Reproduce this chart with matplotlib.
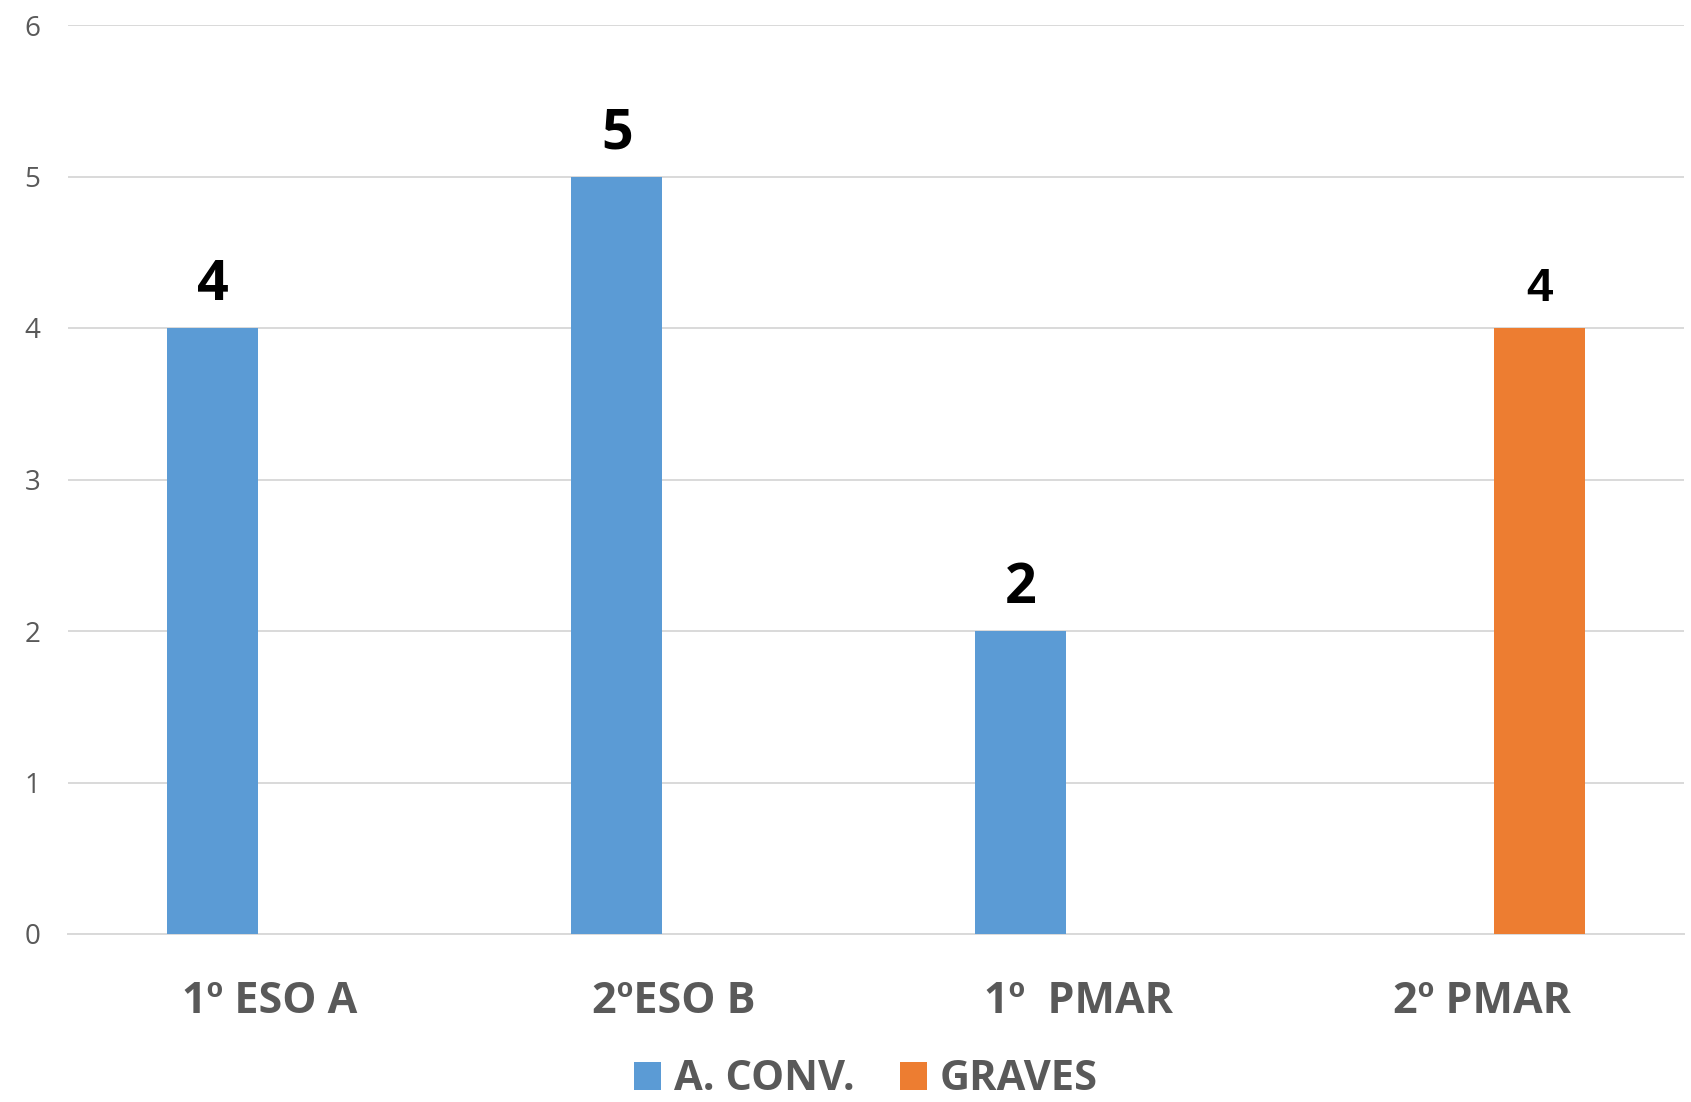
import matplotlib
matplotlib.use("Agg")
import matplotlib.pyplot as plt
import numpy as np

categories = ["1º ESO A", "2ºESO B", "1º  PMAR", "2º PMAR"]
a_conv = [4, 5, 2, 0]
graves = [0, 0, 0, 4]
series_names = ["A. CONV.", "GRAVES"]
yticks = [0, 1, 2, 3, 4, 5, 6]

BLUE = "#5B9BD5"
ORANGE = "#ED7D31"
GRAY = "#595959"
GRID = "#D9D9D9"

fig = plt.figure(figsize=(16.91, 11.02), dpi=100)
ax = fig.add_axes([68/1691, 1-934/1102, (1684-68)/1691, (934-25)/1102])

x = np.arange(len(categories))
w = 0.225
off = 0.142
b1 = ax.bar(x - off, a_conv, w, color=BLUE, label=series_names[0], zorder=3)
b2 = ax.bar(x + off, graves, w, color=ORANGE, label=series_names[1], zorder=3)

for rect, v in zip(b1, a_conv):
    if v:
        ax.annotate(str(v), (rect.get_x() + rect.get_width()/2, v), xytext=(0, 11),
                    textcoords="offset points", ha="center", va="bottom",
                    fontsize=40, fontweight="bold", family="Open Sans", color="black")
for rect, v in zip(b2, graves):
    if v:
        ax.annotate(str(v), (rect.get_x() + rect.get_width()/2, v), xytext=(0, 12),
                    textcoords="offset points", ha="center", va="bottom",
                    fontsize=34, fontweight="bold", family="Liberation Sans", color="black")

ax.set_xlim(-0.5, len(categories) - 0.5)
ax.set_ylim(0, 6)
ax.set_yticks(yticks)
ax.set_yticklabels([str(t) for t in yticks], fontsize=20, family="Open Sans", color=GRAY)
ax.set_xticks(x)
ax.set_xticklabels(categories, fontsize=31, fontweight="bold", family="Open Sans", color=GRAY)
ax.tick_params(axis="y", length=0, pad=20)
ax.tick_params(axis="x", length=0, pad=33)
ax.grid(axis="y", color=GRID, linewidth=1.4, zorder=0)
for s in ["top", "right", "left"]:
    ax.spines[s].set_visible(False)
ax.spines["bottom"].set_color(GRID)
ax.spines["bottom"].set_linewidth(1.4)

leg = fig.legend(loc="center", bbox_to_anchor=(866/1691, 1-1080/1102), ncol=2, frameon=False,
                 prop={"family": "Open Sans", "weight": "bold", "size": 30},
                 handlelength=0.65, handleheight=0.65, handletextpad=0.3, columnspacing=1.1,
                 borderpad=0, borderaxespad=0)
for t in leg.get_texts():
    t.set_color(GRAY)

fig.savefig("out.png", dpi=100)
